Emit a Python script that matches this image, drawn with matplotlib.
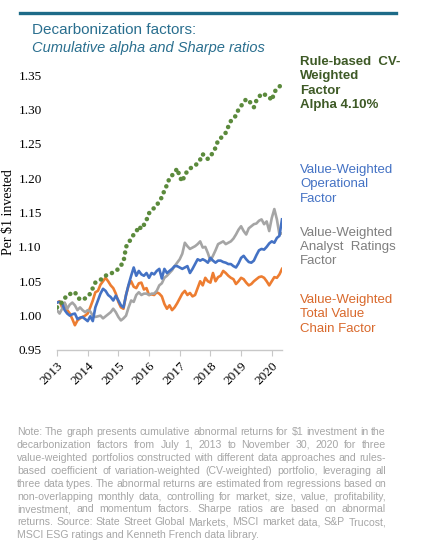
import numpy as np
import matplotlib
matplotlib.use("Agg")
from matplotlib import pyplot as plt

# ------------------------------------------------------------------
# data (monthly)
year_labels = ["2013", "2014", "2015", "2016", "2017", "2018", "2019", "2020"]

cv_weighted = [1.012, 1.015, 1.020, 1.025, 1.030, 1.031, 1.034, 1.034, 1.028, 1.023,
               1.024, 1.025, 1.028, 1.032, 1.040, 1.048, 1.050, 1.052, 1.055, 1.058,
               1.060, 1.061, 1.063, 1.065, 1.068, 1.073, 1.078, 1.100, 1.106, 1.112,
               1.118, 1.122, 1.130, 1.126, 1.132, 1.139, 1.149, 1.152, 1.157, 1.160,
               1.167, 1.172, 1.182, 1.190, 1.200, 1.204, 1.208, 1.214, 1.202, 1.195,
               1.205, 1.210, 1.214, 1.216, 1.218, 1.222, 1.227, 1.235, 1.230, 1.228,
               1.231, 1.238, 1.244, 1.255, 1.258, 1.262, 1.266, 1.275, 1.283, 1.287,
               1.291, 1.300, 1.305, 1.310, 1.315, 1.313, 1.308, 1.303, 1.313, 1.318,
               1.323, 1.322, 1.320, 1.318, 1.313, 1.325, 1.330, 1.333, 1.338]

operational = [1.019, 1.020, 1.018, 1.008, 1.003, 1.000, 1.002, 1.003, 0.995, 0.997,
               0.998, 0.995, 0.992, 0.999, 0.992, 1.012, 1.022, 1.032, 1.039, 1.036,
               1.030, 1.027, 1.022, 1.029, 1.022, 1.015, 1.012, 1.030, 1.045, 1.058,
               1.070, 1.058, 1.065, 1.060, 1.058, 1.062, 1.055, 1.062, 1.060, 1.065,
               1.068, 1.054, 1.068, 1.062, 1.065, 1.068, 1.072, 1.072, 1.070, 1.068,
               1.070, 1.072, 1.062, 1.068, 1.075, 1.082, 1.080, 1.082, 1.080, 1.077,
               1.084, 1.080, 1.077, 1.080, 1.080, 1.078, 1.077, 1.075, 1.075, 1.072,
               1.070, 1.076, 1.084, 1.087, 1.082, 1.078, 1.077, 1.080, 1.088, 1.095,
               1.097, 1.096, 1.100, 1.105, 1.108, 1.106, 1.113, 1.116, 1.140]

analyst = [1.008, 1.003, 1.010, 1.019, 1.010, 1.016, 1.019, 1.015, 1.008, 1.012,
           1.008, 1.005, 1.008, 1.006, 1.000, 0.998, 0.999, 1.000, 0.996, 0.999,
           1.002, 1.005, 1.010, 1.005, 0.998, 0.993, 0.996, 1.000, 1.012, 1.022,
           1.020, 1.030, 1.034, 1.030, 1.032, 1.032, 1.030, 1.032, 1.032, 1.036,
           1.044, 1.047, 1.055, 1.058, 1.062, 1.066, 1.072, 1.077, 1.082, 1.090,
           1.106, 1.101, 1.097, 1.099, 1.101, 1.104, 1.108, 1.099, 1.100, 1.091,
           1.080, 1.087, 1.095, 1.104, 1.106, 1.108, 1.104, 1.106, 1.108, 1.112,
           1.118, 1.125, 1.130, 1.123, 1.118, 1.127, 1.130, 1.133, 1.134, 1.138,
           1.140, 1.133, 1.137, 1.123, 1.142, 1.155, 1.140, 1.118, 1.120]

value_chain = [1.019, 1.021, 1.012, 1.018, 1.008, 1.003, 0.995, 0.986, 0.993, 0.996,
               0.998, 1.000, 1.003, 1.012, 1.022, 1.034, 1.036, 1.045, 1.050, 1.055,
               1.050, 1.044, 1.040, 1.032, 1.020, 1.012, 1.010, 1.030, 1.044, 1.050,
               1.042, 1.040, 1.047, 1.048, 1.038, 1.040, 1.030, 1.031, 1.030, 1.034,
               1.032, 1.028, 1.017, 1.010, 1.015, 1.008, 1.012, 1.018, 1.025, 1.032,
               1.036, 1.030, 1.033, 1.028, 1.030, 1.040, 1.050, 1.044, 1.055, 1.050,
               1.048, 1.062, 1.050, 1.056, 1.058, 1.065, 1.062, 1.058, 1.055, 1.053,
               1.046, 1.050, 1.055, 1.053, 1.048, 1.044, 1.046, 1.050, 1.053, 1.056,
               1.057, 1.055, 1.050, 1.044, 1.050, 1.056, 1.055, 1.060, 1.068]

note_lines = [
    "Note: The graph presents cumulative abnormal returns for \\$1 investment in the",
    "decarbonization factors from July 1, 2013 to November 30, 2020 for three",
    "value-weighted portfolios constructed with different data approaches and rules-",
    "based coefficient of variation-weighted (CV-weighted) portfolio, leveraging all",
    "three data types. The abnormal returns are estimated from regressions based on",
    "non-overlapping monthly data, controlling for market, size, value, profitability,",
    "investment, and momentum factors. Sharpe ratios are based on abnormal",
    "returns. Source: State Street Global Markets, MSCI market data, S&P Trucost,",
    "MSCI ESG ratings and Kenneth French data library.",
]

#-------------------------------------------------------------------
# colours
GREEN = '#5b8a3c'
GREEN_TXT = '#3e5a26'
BLUE = '#4472c4'
GRAY = '#a5a5a5'
GRAY_TXT = '#7f7f7f'
ORANGE = '#ed7d31'
ORANGE_TXT = '#d9692c'
TEAL = '#2a6f8f'

W, H = 435, 558
fig = plt.figure(figsize=(W/100, H/100), dpi=100)

def fx(px): return px / W
def fy(py): return 1 - py / H

# header
fig.add_artist(plt.Line2D([fx(20), fx(396)], [fy(13), fy(13)], color='#1d6b88', lw=2.4))
fig.text(fx(32), fy(30), "Decarbonization factors:", color=TEAL, fontsize=11,
         family='Liberation Sans', va='center')
fig.text(fx(32), fy(48), "Cumulative alpha and Sharpe ratios", color=TEAL, fontsize=10.5,
         family='Liberation Sans', style='italic', va='center')

#-------------------------------------------------------------------
# plot
ax = fig.add_axes([fx(57), fy(350), fx(282) - fx(57), fy(75) - fy(350)])
months = np.arange(len(cv_weighted))

ax.plot(months, value_chain, color=ORANGE, lw=1.9, solid_joinstyle='round')
ax.plot(months, analyst, color=GRAY, lw=1.9, solid_joinstyle='round')
ax.plot(months, operational, color=BLUE, lw=1.9, solid_joinstyle='round')
ax.plot(months, cv_weighted, color=GREEN, lw=3.3, linestyle=(0, (0.01, 1.4)),
        dash_capstyle='round')

ax.set_xlim(0, 88)
ax.set_ylim(0.95, 1.35)
ax.set_yticks([0.95, 1.00, 1.05, 1.10, 1.15, 1.20, 1.25, 1.30, 1.35])
ax.set_yticklabels(["%.2f" % v for v in ax.get_yticks()])
ax.set_xticks(np.arange(0, 85, 12))
ax.set_xticklabels(year_labels, rotation=45, ha='right', rotation_mode='anchor')

for s in ['top', 'right', 'left']:
    ax.spines[s].set_visible(False)
ax.spines['bottom'].set_color('#c8c8c8')
ax.spines['bottom'].set_linewidth(1.0)
ax.tick_params(axis='y', length=0, pad=11, labelsize=9.5)
ax.tick_params(axis='x', length=4, color='#c8c8c8', pad=3, labelsize=9.5)
for lab in ax.get_xticklabels() + ax.get_yticklabels():
    lab.set_family('Liberation Serif')
ax.set_ylabel("Per \\$1 invested", family='Liberation Serif', fontsize=10, labelpad=2)

#-------------------------------------------------------------------
# series labels on the right
lab_kw = dict(fontsize=9.5, family='Liberation Sans', va='top', linespacing=1.25)
fig.text(fx(300), fy(56), "Rule-based  CV-\nWeighted\nFactor\nAlpha 4.10%",
         color=GREEN_TXT, weight='bold', **lab_kw)
fig.text(fx(300), fy(164), "Value-Weighted\nOperational\nFactor", color=BLUE, **lab_kw)
fig.text(fx(300), fy(227), "Value-Weighted\nAnalyst  Ratings\nFactor", color=GRAY_TXT, **lab_kw)
fig.text(fx(300), fy(294), "Value-Weighted\nTotal Value\nChain Factor", color=ORANGE_TXT, **lab_kw)

#-------------------------------------------------------------------
# note, justified between x=17 and x=386
renderer = fig.canvas.get_renderer()
left, right = 17, 386
note_kw = dict(fontsize=7.6, family='Liberation Sans', color='#a6a6a6', va='baseline')
for i, line in enumerate(note_lines):
    y = fy(435 + i * 12.9)
    words = line.split(' ')
    if i == len(note_lines) - 1:
        fig.text(fx(left), y, line, **note_kw)
        continue
    widths = []
    for w_ in words:
        t = fig.text(0, 0, w_, **note_kw)
        widths.append(t.get_window_extent(renderer).width)
        t.remove()
    gap = (right - left - sum(widths)) / (len(words) - 1)
    x = left
    for w_, wd in zip(words, widths):
        fig.text(fx(x), y, w_, **note_kw)
        x += wd + gap

fig.savefig("out.png", dpi=100)
